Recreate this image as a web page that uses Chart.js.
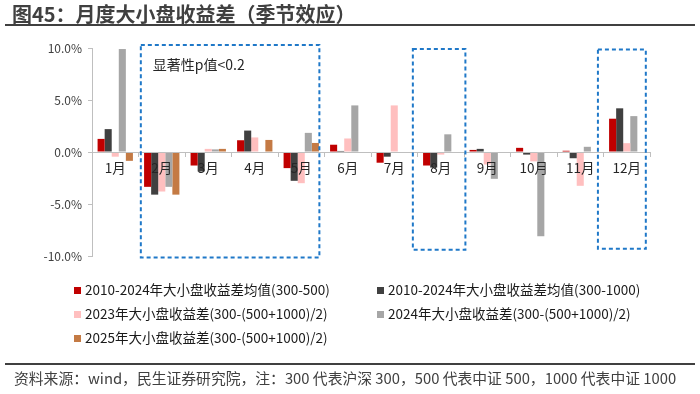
<!DOCTYPE html>
<html>
<head>
<meta charset="utf-8">
<script src="https://cdn.jsdelivr.net/npm/chart.js@4"></script>
<style>
  html, body { margin: 0; padding: 0; background: #fff; }
  body { width: 700px; height: 394px; position: relative; overflow: hidden;
         font-family: "Noto Sans CJK SC", "Noto Sans", sans-serif; color: #404040; }
  #c { position: absolute; left: 0; top: 0; }
  .title { position: absolute; left: 12px; top: 2px; font-size: 20px; font-weight: bold; color: #404040; line-height: 24px; }
  .rule { position: absolute; left: 5px; right: 5px; height: 2px; background: #404040; }
  .source { position: absolute; left: 14px; top: 369px; font-size: 14.8px; color: #404040; line-height: 18px; white-space: nowrap; }
  .legend { position: absolute; left: 0; top: 0; font-size: 13.5px; color: #1a1a1a; }
  .legend .item { position: absolute; white-space: nowrap; line-height: 18px; }
  .legend .sw { display: inline-block; width: 7px; height: 7px; margin-right: 4px; vertical-align: 1px; }
</style>
</head>
<body>
<canvas id="c" width="700" height="394"></canvas>
<div class="title">图45：月度大小盘收益差（季节效应）</div>
<div class="rule" style="top:24px"></div>
<div class="rule" style="top:363px"></div>
<div class="source">资料来源：wind，民生证券研究院，注：300 代表沪深 300，500 代表中证 500，1000 代表中证 1000</div>
<div class="legend" id="legend"></div>
<script>
const months = ['1月', '2月', '3月', '4月', '5月', '6月', '7月', '8月', '9月', '10月', '11月', '12月'];

const avg300_500 = [1.26, -3.35, -1.3, 1.13, -1.55, 0.7, -1.03, -1.3, 0.2, 0.4, 0.12, 3.2];
const avg300_1000 = [2.2, -4.1, -1.87, 2.06, -2.77, 0.1, -0.45, -1.5, 0.3, -0.25, -0.6, 4.2];
const diff2023 = [-0.45, -3.8, 0.3, 1.4, -3.0, 1.3, 4.48, -0.25, -1.2, -0.9, -3.25, 0.85];
const diff2024 = [9.9, -3.35, 0.25, -0.05, 1.84, 4.48, 0.05, 1.7, -2.58, -8.1, 0.5, 3.45];
const diff2025 = [-0.85, -4.1, 0.3, 1.16, 0.87, null, null, null, null, null, null, null];

const seriesNames = [
  '2010-2024年大小盘收益差均值(300-500)',
  '2010-2024年大小盘收益差均值(300-1000)',
  '2023年大小盘收益差(300-(500+1000)/2)',
  '2024年大小盘收益差(300-(500+1000)/2)',
  '2025年大小盘收益差(300-(500+1000)/2)'
];
const seriesColors = ['#C00000', '#404040', '#FFBFBF', '#A6A6A6', '#C47A44'];
const seriesData = [avg300_500, avg300_1000, diff2023, diff2024, diff2025];

// dashed highlight boxes (category span, value span)
const boxes = [
  { from: 1, to: 4, left: -0.45, right: 0.39, top: 10.3, bottom: -10.15 },
  { from: 7, to: 7, left: -0.6, right: 0.53, top: 9.9, bottom: -9.4 },
  { from: 11, to: 11, left: -0.62, right: 0.41, top: 9.85, bottom: -9.3 }
];

const boxPlugin = {
  id: 'boxes',
  afterDraw(chart) {
    const ctx = chart.ctx, x = chart.scales.x, y = chart.scales.y;
    const step = x.getPixelForValue(1) - x.getPixelForValue(0);
    ctx.save();
    ctx.strokeStyle = '#1F78C8';
    ctx.lineWidth = 2;
    ctx.setLineDash([4, 3]);
    boxes.forEach(b => {
      const l = x.getPixelForValue(b.from) + b.left * step;
      const r = x.getPixelForValue(b.to) + b.right * step;
      const t = y.getPixelForValue(b.top);
      const btm = y.getPixelForValue(b.bottom);
      ctx.strokeRect(l, t, r - l, btm - t);
    });
    ctx.setLineDash([]);
    ctx.fillStyle = '#262626';
    ctx.font = '14px "Noto Sans CJK SC", sans-serif';
    ctx.textBaseline = 'middle';
    const b = boxes[0];
    ctx.fillText('显著性p值<0.2', x.getPixelForValue(b.from) + b.left * step + 12, y.getPixelForValue(b.top) + 20);
    ctx.restore();
  }
};

new Chart(document.getElementById('c'), {
  type: 'bar',
  data: {
    labels: months,
    datasets: seriesData.map((d, i) => ({
      label: seriesNames[i],
      data: d,
      backgroundColor: seriesColors[i],
      borderWidth: 0,
      barPercentage: 1,
      categoryPercentage: 0.76
    }))
  },
  options: {
    responsive: false,
    animation: false,
    devicePixelRatio: 1,
    layout: { padding: { top: 48, right: 50, bottom: 138, left: 0 } },
    plugins: { legend: { display: false }, tooltip: { enabled: false } },
    scales: {
      x: {
        position: { y: 0 },
        grid: { display: true, drawOnChartArea: false, drawTicks: true, tickLength: 4, color: '#BFBFBF', offset: true, z: 1 },
        border: { color: '#BFBFBF', width: 1, z: 1 },
        ticks: { z: 1, color: '#262626', font: { size: 13.5, family: '"Noto Sans CJK SC", sans-serif' }, padding: 4, maxRotation: 0 }
      },
      y: {
        min: -10, max: 10,
        grid: { display: true, drawOnChartArea: false, drawTicks: true, tickLength: 4, color: '#BFBFBF' },
        border: { color: '#BFBFBF', width: 1 },
        ticks: { stepSize: 5, color: '#404040', font: { size: 12, family: '"Noto Sans CJK SC", sans-serif' }, padding: 6,
                 callback: v => v.toFixed(1) + '%' },
        afterFit: s => { s.width = 92; }
      }
    }
  },
  plugins: [boxPlugin]
});

// legend in two columns
const legendPos = [[74, 280], [377, 280], [74, 304], [377, 304], [74, 328]];
const lg = document.getElementById('legend');
seriesNames.forEach((n, i) => {
  const d = document.createElement('div');
  d.className = 'item';
  d.style.left = legendPos[i][0] + 'px';
  d.style.top = legendPos[i][1] + 'px';
  d.innerHTML = '<span class="sw" style="background:' + seriesColors[i] + '"></span>' + n;
  lg.appendChild(d);
});
</script>
</body>
</html>
